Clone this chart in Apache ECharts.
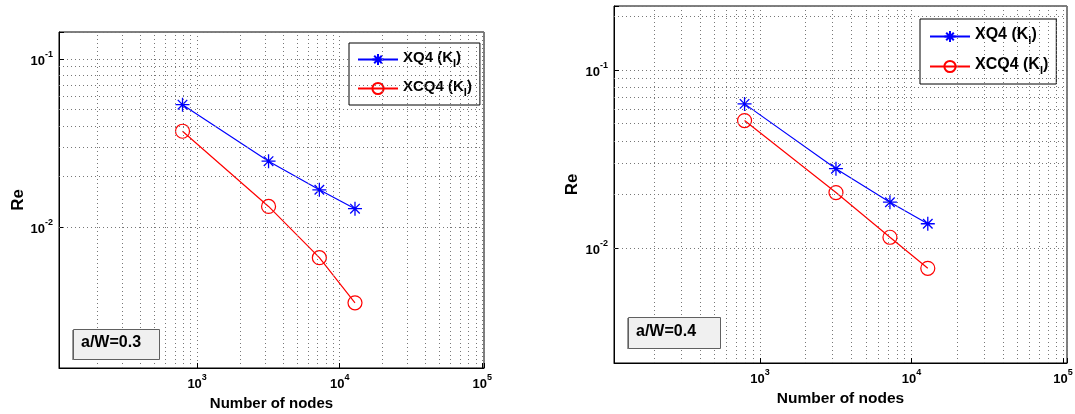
<!DOCTYPE html>
<html><head><meta charset="utf-8">
<script src="https://cdn.jsdelivr.net/npm/echarts@6/dist/echarts.min.js"></script>
<style>html,body{margin:0;padding:0;background:#fff}#c{width:1075px;height:414px}</style>
</head><body><div id="c"></div>
<script>
// ---- data ----
const nodes = [790, 3170, 7200, 12800];
const leftXQ4 = [0.0535, 0.0247, 0.0167, 0.0129];
const leftXCQ4 = [0.0372, 0.0133, 0.0066, 0.00356];
const rightXQ4 = [0.0645, 0.0279, 0.0181, 0.0137];
const rightXCQ4 = [0.052, 0.0205, 0.0115, 0.0077];
const seriesNames = ['XQ4 (K_I)', 'XCQ4 (K_I)'];
const panelLabels = ['a/W=0.3', 'a/W=0.4'];
const xAxisTitle = 'Number of nodes';
const yAxisTitle = 'Re';
// minor grid tick values (log decades)
const xMinorTicks = [200,300,400,500,600,700,800,900,2000,3000,4000,5000,6000,7000,8000,9000,20000,30000,40000,50000,60000,70000,80000,90000];
const leftYMinorTicks = [0.002,0.003,0.004,0.005,0.006,0.007,0.008,0.009,0.02,0.03,0.04,0.05,0.06,0.07,0.08,0.09];
const rightYMinorTicks = [0.003,0.004,0.005,0.006,0.007,0.008,0.009,0.02,0.03,0.04,0.05,0.06,0.07,0.08,0.09,0.2];

const FONT = '"Liberation Sans", Arial, Helvetica, sans-serif';
const gridLine = {color: '#777', width: 1, type: [1, 3]};

function powLabel(v) {
  const e = Math.log10(v), r = Math.round(e);
  if (Math.abs(e - r) > 1e-6) return '';
  return '{b|10}{p|' + r + '}';
}
const labelRich = {
  b: {fontSize: 13, fontWeight: 'bold', fontFamily: FONT, color: '#000', lineHeight: 18, verticalAlign: 'bottom'},
  p: {fontSize: 9, fontWeight: 'bold', fontFamily: FONT, color: '#000', lineHeight: 18, verticalAlign: 'top'}
};
function legendFmt(name) {
  const parts = name.split('_');
  return '{a|' + parts[0] + '}{s|' + parts[1].charAt(0) + '}{a|)}';
}
function legendRich(fs) {
  return {
    a: {fontSize: fs, fontWeight: 'bold', fontFamily: FONT, color: '#000', lineHeight: 19, verticalAlign: 'top'},
    s: {fontSize: Math.round(fs * 0.7), fontWeight: 'bold', fontFamily: FONT, color: '#000', lineHeight: 19, verticalAlign: 'bottom'}
  };
}
const asterisk = 'path://M5 0L5 10M0 5L10 5M1.6 1.6L8.4 8.4M1.6 8.4L8.4 1.6';

function makeX(idx, min, max, nameGap, nameSize) {
  return {
    type: 'log', gridIndex: idx, min: min, max: max, logBase: 10,
    name: xAxisTitle, nameLocation: 'middle', nameGap: nameGap,
    nameTextStyle: {fontSize: nameSize, fontWeight: 'bold', fontFamily: FONT, color: '#000'},
    axisLine: {show: true, onZero: false, lineStyle: {color: '#000', width: 1}},
    axisTick: {show: true, inside: true, length: 5, lineStyle: {color: '#000'}},
    axisLabel: {formatter: powLabel, rich: labelRich, margin: 5, showMinLabel: true, showMaxLabel: true, hideOverlap: false},
    splitLine: {show: true, lineStyle: gridLine}
  };
}
function makeY(idx, min, max, nameGap, nameSize) {
  return {
    type: 'log', gridIndex: idx, min: min, max: max, logBase: 10,
    name: yAxisTitle, nameLocation: 'middle', nameGap: nameGap, nameRotate: 90,
    nameTextStyle: {fontSize: nameSize, fontWeight: 'bold', fontFamily: FONT, color: '#000'},
    axisLine: {show: true, onZero: false, lineStyle: {color: '#000', width: 1}},
    axisTick: {show: true, inside: true, length: 5, lineStyle: {color: '#000'}},
    axisLabel: {formatter: powLabel, rich: labelRich, margin: 6, hideOverlap: false},
    splitLine: {show: true, lineStyle: gridLine}
  };
}
function minorSeries(idx, yTicks) {
  const data = xMinorTicks.map(v => ({xAxis: v})).concat(yTicks.map(v => ({yAxis: v})));
  return {
    type: 'line', xAxisIndex: idx, yAxisIndex: idx, data: [], silent: true, z: 1,
    markLine: {silent: true, symbol: 'none', label: {show: false}, animation: false,
      lineStyle: gridLine, emphasis: {disabled: true}, data: data}
  };
}
function starSeries(idx, ys) {
  return {
    name: seriesNames[0], type: 'line', xAxisIndex: idx, yAxisIndex: idx, z: 3,
    data: nodes.map((x, i) => [x, ys[i]]),
    symbol: asterisk, symbolSize: 14, symbolKeepAspect: true,
    itemStyle: {color: '#0000ff', borderColor: '#0000ff', borderWidth: 1.3},
    lineStyle: {color: '#0000ff', width: 1.2}
  };
}
function circSeries(idx, ys) {
  return {
    name: seriesNames[1], type: 'line', xAxisIndex: idx, yAxisIndex: idx, z: 3,
    data: nodes.map((x, i) => [x, ys[i]]),
    symbol: 'circle', symbolSize: 14,
    itemStyle: {color: 'rgba(255,255,255,0)', borderColor: '#ff0000', borderWidth: 1.2},
    lineStyle: {color: '#ff0000', width: 1.2}
  };
}
function makeLegend(left, top, fs, gap, pad) {
  return {
    data: seriesNames, orient: 'vertical', left: left, top: top,
    padding: pad, itemGap: gap, itemWidth: 40, itemHeight: 14,
    borderColor: '#000', borderWidth: 1, backgroundColor: '#fff',
    selectedMode: false, formatter: legendFmt,
    textStyle: {rich: legendRich(fs)}
  };
}
function panelBox(x, y, w, h, text, fs) {
  return [
    {type: 'rect', left: x - 1, top: y + 1, shape: {x: 0, y: 0, width: w, height: h},
      style: {fill: '#9a9a9a'}, z: 10},
    {type: 'rect', left: x, top: y, shape: {x: 0, y: 0, width: w, height: h},
      style: {fill: '#f0f0f0', stroke: '#606060', lineWidth: 1}, z: 11},
    {type: 'text', left: x + 8, top: y + h / 2 - fs / 2 - 1, z: 12,
      style: {text: text, fill: '#000', font: 'bold ' + fs + 'px ' + FONT}}
  ];
}

const chart = echarts.init(document.getElementById('c'), null, {renderer: 'canvas'});
chart.setOption({
  backgroundColor: '#fff',
  animation: false,
  grid: [
    {left: 59, top: 32, width: 425, height: 336, show: true, borderColor: '#000', borderWidth: 1, backgroundColor: '#fff', containLabel: false, outerBoundsMode: 'none'},
    {left: 614, top: 6, width: 453, height: 357, show: true, borderColor: '#000', borderWidth: 1, backgroundColor: '#fff', containLabel: false, outerBoundsMode: 'none'}
  ],
  xAxis: [makeX(0, 107.5, 102800, 27, 15), makeX(1, 108.6, 106200, 23, 15.5)],
  yAxis: [makeY(0, 0.00146, 0.1445, 32, 17), makeY(1, 0.002264, 0.2286, 33, 17)],
  legend: [makeLegend(349, 43, 15, 10, [7, 8, 7, 8]), makeLegend(920, 19, 16, 11, [8, 8, 8, 9])],
  series: [
    minorSeries(0, leftYMinorTicks), starSeries(0, leftXQ4), circSeries(0, leftXCQ4),
    minorSeries(1, rightYMinorTicks), starSeries(1, rightXQ4), circSeries(1, rightXCQ4)
  ],
  graphic: panelBox(73, 329, 86, 30, panelLabels[0], 16).concat(panelBox(628, 317, 92, 31, panelLabels[1], 16))
});
</script></body></html>
